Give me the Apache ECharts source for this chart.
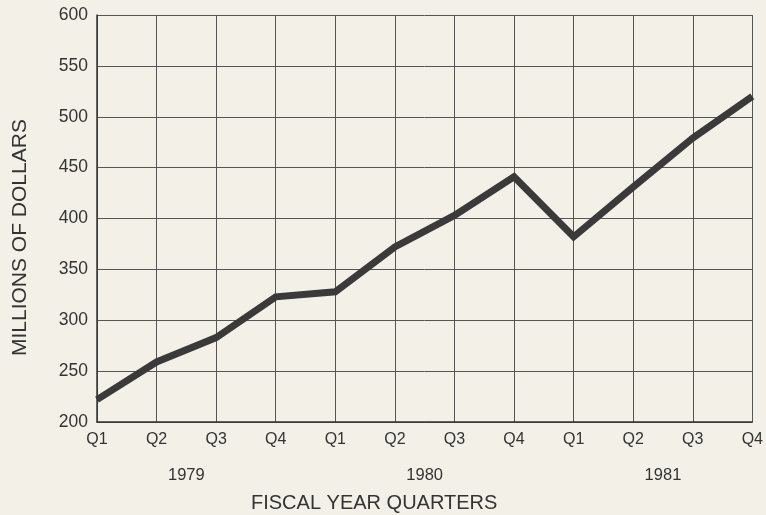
<!DOCTYPE html>
<html>
<head>
<meta charset="utf-8">
<script src="https://cdn.jsdelivr.net/npm/echarts@6/dist/echarts.min.js"></script>
<style>
  html, body { margin: 0; padding: 0; background: #f3f1e7; }
  #chart { width: 766px; height: 515px; }
</style>
</head>
<body>
<div id="chart"></div>
<script>
// quarters along the bottom, one per point
const quarters = ['Q1', 'Q2', 'Q3', 'Q4', 'Q1', 'Q2', 'Q3', 'Q4', 'Q1', 'Q2', 'Q3', 'Q4'];
// revenue, millions of dollars
const revenue = [222, 259, 283, 323, 328, 372, 403, 441, 382, 431, 479, 520];
// year labels sit between Q2 and Q3 of each year
const yearSlots = ['', '1979', '', '', '', '1980', '', '', '', '1981', ''];

const ink = '#333';
const font = 'Liberation Sans, Arial, sans-serif';

const chart = echarts.init(document.getElementById('chart'));
chart.setOption({
  backgroundColor: '#f3f1e7',
  animation: false,
  grid: { left: 97, right: 12, top: 15, bottom: 93 },
  xAxis: [
    {
      type: 'category',
      data: quarters,
      boundaryGap: false,
      axisLine: { lineStyle: { color: ink, width: 1.5 } },
      axisTick: { show: false },
      axisLabel: { color: ink, fontSize: 16, fontFamily: font, margin: 10 },
      splitLine: { show: true, lineStyle: { color: '#555', width: 1 } }
    },
    {
      // second row of labels: the fiscal years
      type: 'category',
      position: 'bottom',
      data: yearSlots,
      boundaryGap: true,
      axisLine: { show: false },
      axisTick: { show: false },
      axisLabel: { color: ink, fontSize: 16.5, fontFamily: font, margin: 45, interval: 0 },
      splitLine: { show: false }
    }
  ],
  yAxis: {
    type: 'value',
    min: 200,
    max: 600,
    interval: 50,
    axisLine: { show: true, lineStyle: { color: ink, width: 1.5 } },
    axisTick: { show: false },
    axisLabel: { color: ink, fontSize: 17.5, fontFamily: font, margin: 9 },
    splitLine: { lineStyle: { color: '#555', width: 1 } }
  },
  graphic: [
    {
      type: 'text',
      left: 251,
      top: 493,
      style: { text: 'FISCAL YEAR QUARTERS', fill: ink, fontSize: 20, fontFamily: font }
    },
    {
      type: 'text',
      x: 10,
      y: 356,
      rotation: Math.PI / 2,
      style: { text: 'MILLIONS OF DOLLARS', fill: ink, fontSize: 21, fontFamily: font }
    }
  ],
  series: [
    {
      type: 'line',
      data: revenue,
      xAxisIndex: 0,
      symbol: 'none',
      lineStyle: { color: '#3a3a3a', width: 7, join: 'miter' }
    }
  ]
});
</script>
</body>
</html>
